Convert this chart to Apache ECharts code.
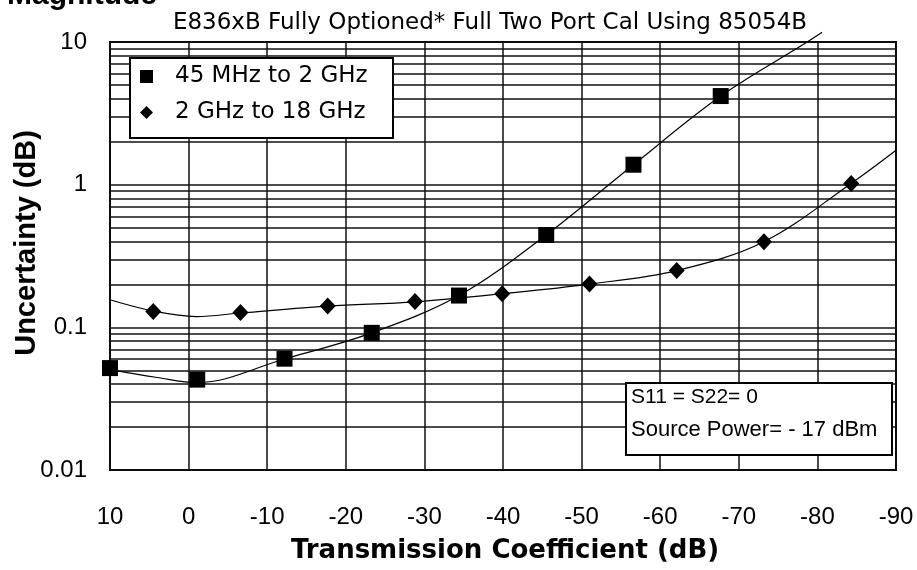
<!DOCTYPE html>
<html><head><meta charset="utf-8">
<script src="https://cdn.jsdelivr.net/npm/echarts@6/dist/echarts.min.js"></script>
<style>html,body{margin:0;padding:0;background:#fff}#c{width:917px;height:570px}</style>
</head><body><div id="c"></div>
<script>
// ---- data ----
const seriesNames = ['45 MHz to 2 GHz', '2 GHz to 18 GHz'];
// 45 MHz to 2 GHz markers
const sqX = [10, -1.1, -12.2, -23.3, -34.4, -45.5, -56.6, -67.7];
const sqY = [0.0518, 0.043, 0.0603, 0.0915, 0.167, 0.444, 1.38, 4.18];
// 2 GHz to 18 GHz markers
const diX = [4.5, -6.6, -17.7, -28.8, -39.9, -51, -62.1, -73.2, -84.3];
const diY = [0.129, 0.127, 0.141, 0.1515, 0.172, 0.201, 0.25, 0.398, 1.02];
// fitted trend curves
const sqFitX = [10, 4, -1.1, -12.2, -23.3, -34.4, -45.5, -56.6, -67.7, -78.7, -80.6];
const sqFitY = [0.0505, 0.0445, 0.041, 0.060, 0.0915, 0.167, 0.444, 1.38, 4.18, 10, 11.7];
const diFitX = [10, 4.5, -1, -6.6, -17.7, -28.8, -39.9, -51, -62.1, -73.2, -84.3, -90];
const diFitY = [0.156, 0.13, 0.119, 0.126, 0.141, 0.151, 0.172, 0.201, 0.25, 0.398, 1.02, 1.74];
const yTickLabels = {'0.01': '0.01', '0.1': '0.1', '1': '1', '10': '10'};
const titleText = 'E836xB Fully Optioned* Full Two Port Cal Using 85054B';
const noteLines = ['S11 = S22= 0', 'Source Power= - 17 dBm'];

// minor log grid values (2..9 x each decade)
const minorGrid = [];
[0.01, 0.1, 1].forEach(d => { for (let k = 2; k <= 9; k++) minorGrid.push(+(k * d).toPrecision(3)); });

const zip = (xs, ys) => xs.map((x, i) => [x, ys[i]]);
const FONT = 'Liberation Sans, Arial, sans-serif';
const WIDE = 'DejaVu Sans, sans-serif';
const gridColor = '#111';

const chart = echarts.init(document.getElementById('c'), null, {renderer: 'canvas'});
chart.setOption({
  animation: false,
  backgroundColor: '#fff',
  grid: {left: 110, right: 21, top: 42, bottom: 100, show: true, borderColor: '#000', borderWidth: 2, backgroundColor: 'transparent'},
  xAxis: {
    type: 'value', inverse: true, min: -90, max: 10, interval: 10,
    axisLine: {show: false}, axisTick: {show: false},
    axisLabel: {margin: 35, fontSize: 24, fontFamily: FONT, color: '#000'},
    splitLine: {show: true, lineStyle: {color: gridColor, width: 1.5}}
  },
  yAxis: {
    type: 'log', logBase: 10, min: 0.01, max: 10,
    axisLine: {show: false}, axisTick: {show: false},
    axisLabel: {margin: 23, fontSize: 24, fontFamily: FONT, color: '#000',
      formatter: v => yTickLabels[String(v)] !== undefined ? yTickLabels[String(v)] : String(v)},
    splitLine: {show: true, lineStyle: {color: gridColor, width: 1.5}},
    minorTick: {show: false}, minorSplitLine: {show: false}
  },
  legend: {
    orient: 'vertical', left: 130, top: 58, z: 20,
    backgroundColor: 'transparent', borderWidth: 0,
    padding: [7, 0, 0, 10],
    itemWidth: 13, itemHeight: 13, itemGap: 13,
    selectedMode: false,
    textStyle: {fontFamily: WIDE, fontSize: 23, color: '#000', padding: [0, 0, 0, 17]},
    data: [{name: seriesNames[0], icon: 'rect'}, {name: seriesNames[1], icon: 'diamond'}]
  },
  series: [
    {
      name: 'minor-grid', type: 'line', data: [], z: 1, silent: true,
      markLine: {
        silent: true, symbol: ['none', 'none'], animation: false, z: 1,
        label: {show: false},
        lineStyle: {type: 'solid', color: gridColor, width: 1.5},
        emphasis: {disabled: true},
        data: minorGrid.map(v => ({yAxis: v}))
      }
    },
    {
      name: 'fit-a', type: 'line', data: zip(sqFitX, sqFitY), smooth: 0.35, showSymbol: false,
      clip: false, z: 3, silent: true,
      lineStyle: {color: '#000', width: 1.2}
    },
    {
      name: 'fit-b', type: 'line', data: zip(diFitX, diFitY), smooth: 0.35, showSymbol: false,
      z: 3, silent: true,
      lineStyle: {color: '#000', width: 1.2}
    },
    {
      name: seriesNames[0], type: 'scatter', data: zip(sqX, sqY), symbol: 'rect', symbolSize: 16,
      z: 4, itemStyle: {color: '#000', opacity: 1}
    },
    {
      name: seriesNames[1], type: 'scatter', data: zip(diX, diY), symbol: 'diamond', symbolSize: [16, 17],
      z: 4, itemStyle: {color: '#000', opacity: 1}
    }
  ],
  graphic: [
    {type: 'text', x: 7, y: -4, z: 100, style: {text: 'Magnitude', font: 'bold 30px ' + FONT, fill: '#000', textAlign: 'left', textVerticalAlign: 'middle'}},
    {type: 'text', x: 490, y: 23, z: 100, style: {text: titleText, font: '23px ' + WIDE, fill: '#000', textAlign: 'center', textVerticalAlign: 'middle'}},
    {type: 'text', x: 27, y: 243, rotation: Math.PI / 2, z: 100, style: {text: 'Uncertainty (dB)', font: 'bold 29px ' + FONT, fill: '#000', textAlign: 'center', textVerticalAlign: 'middle'}},
    {type: 'text', x: 505, y: 551, z: 100, style: {text: 'Transmission Coefficient (dB)', font: 'bold 26px ' + WIDE, fill: '#000', textAlign: 'center', textVerticalAlign: 'middle'}},
    {type: 'rect', z: 10, shape: {x: 130, y: 58, width: 263, height: 80}, style: {fill: '#fff', stroke: '#000', lineWidth: 2}},
    {type: 'rect', z: 100, shape: {x: 626, y: 383, width: 266, height: 72}, style: {fill: '#fff', stroke: '#000', lineWidth: 2}},
    {type: 'text', z: 101, x: 631, y: 397, style: {text: noteLines[0], font: '21px ' + FONT, fill: '#000', textAlign: 'left', textVerticalAlign: 'middle'}},
    {type: 'text', z: 101, x: 631, y: 430, style: {text: noteLines[1], font: '22px ' + FONT, fill: '#000', textAlign: 'left', textVerticalAlign: 'middle'}}
  ]
});
</script></body></html>
